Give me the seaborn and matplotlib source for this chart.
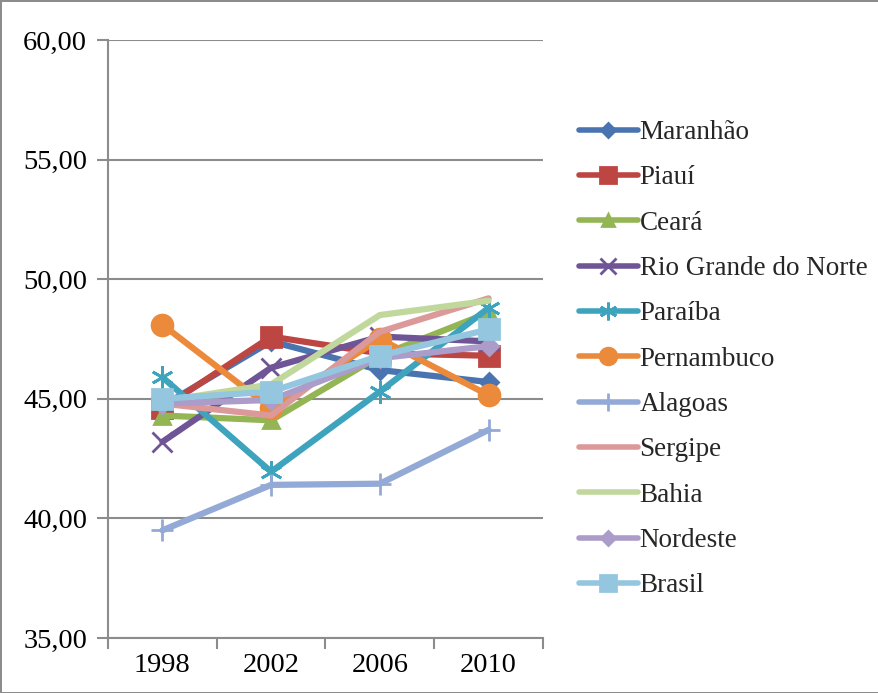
import seaborn as sns
import matplotlib.pyplot as plt
from matplotlib.ticker import FixedLocator, FuncFormatter
from matplotlib.font_manager import FontProperties

years = ["1998", "2002", "2006", "2010"]

maranhao = [44.7, 47.4, 46.2, 45.7]
piaui = [44.6, 47.6, 46.9, 46.8]
ceara = [44.3, 44.1, 46.8, 48.6]
rio_grande_do_norte = [43.2, 46.3, 47.6, 47.4]
paraiba = [45.9, 41.95, 45.3, 48.8]
pernambuco = [48.1, 44.6, 47.5, 45.15]
alagoas = [39.5, 41.4, 41.45, 43.7]
sergipe = [44.8, 44.3, 47.8, 49.2]
bahia = [44.9, 45.6, 48.5, 49.1]
nordeste = [44.8, 44.95, 46.7, 47.2]
brasil = [45.0, 45.3, 46.8, 47.9]

names = ["Maranhão", "Piauí", "Ceará", "Rio Grande do Norte", "Paraíba",
         "Pernambuco", "Alagoas", "Sergipe", "Bahia", "Nordeste", "Brasil"]
series = [maranhao, piaui, ceara, rio_grande_do_norte, paraiba,
          pernambuco, alagoas, sergipe, bahia, nordeste, brasil]
colors = ["#4a74b0", "#bd4542", "#93b553", "#6f5595", "#3ea3bd",
          "#ec8a3c", "#93a9d6", "#dc999a", "#c1d89c", "#ab9cc9", "#94c7df"]
markers = ["D", "s", "^", "x", (6, 2, 0), "o", "+", "", "", "D", "s"]
sizes = [9, 14, 11, 14, 16, 15, 16, 0, 0, 9, 14]

sns.set_theme(style="white")
plt.rcParams["font.family"] = ["Liberation Serif", "DejaVu Serif"]
tick_font = FontProperties(family="Liberation Serif", size=20.5)
leg_font = FontProperties(family="Liberation Serif", size=19.5)

fig = plt.figure(figsize=(8.79, 6.93), dpi=100)
fig.patch.set_edgecolor("#8c8c8c")
fig.patch.set_linewidth(2)
ax = fig.add_axes([0.1229, 0.0794, 0.4948, 0.8629])

for name, vals, c, m, s in zip(names, series, colors, markers, sizes):
    sns.lineplot(x=years, y=vals, ax=ax, color=c, marker=m, markersize=s,
                 markeredgecolor=c, markeredgewidth=2, linewidth=4.5,
                 label=name, sort=False)

ax.set_ylim(35, 60)
ax.set_xlim(-0.5, 3.5)
ax.set_yticks([35, 40, 45, 50, 55, 60])
ax.yaxis.set_major_formatter(FuncFormatter(lambda v, p: f"{v:.2f}".replace(".", ",")))
ax.grid(axis="y", color="#8c8c8c", linewidth=1.5)
ax.set_axisbelow(True)
for side in ["top", "right"]:
    ax.spines[side].set_visible(False)
for side in ["left", "bottom"]:
    ax.spines[side].set_color("#8c8c8c")
    ax.spines[side].set_linewidth(1.5)

ax.tick_params(axis="y", which="major", length=8, width=1.5, color="#8c8c8c",
               left=True, pad=7, labelcolor="black")
ax.tick_params(axis="x", which="major", length=0, pad=11, labelcolor="black")
ax.xaxis.set_minor_locator(FixedLocator([-0.5, 0.5, 1.5, 2.5, 3.5]))
ax.tick_params(axis="x", which="minor", bottom=True, length=8, width=1.5,
               color="#8c8c8c")
ax.set_xlabel("")
ax.set_ylabel("")
for lbl in ax.get_xticklabels() + ax.get_yticklabels():
    lbl.set_fontproperties(tick_font)

leg = ax.legend(loc="upper left", bbox_to_anchor=(1.057, 0.884), frameon=False,
                prop=leg_font, handlelength=2.2, handletextpad=0.05,
                labelspacing=0.75, borderaxespad=0, markerscale=0.8)
for line in leg.get_lines():
    line.set_linewidth(4)

fig.savefig("out.png", dpi=100, edgecolor=fig.get_edgecolor())
